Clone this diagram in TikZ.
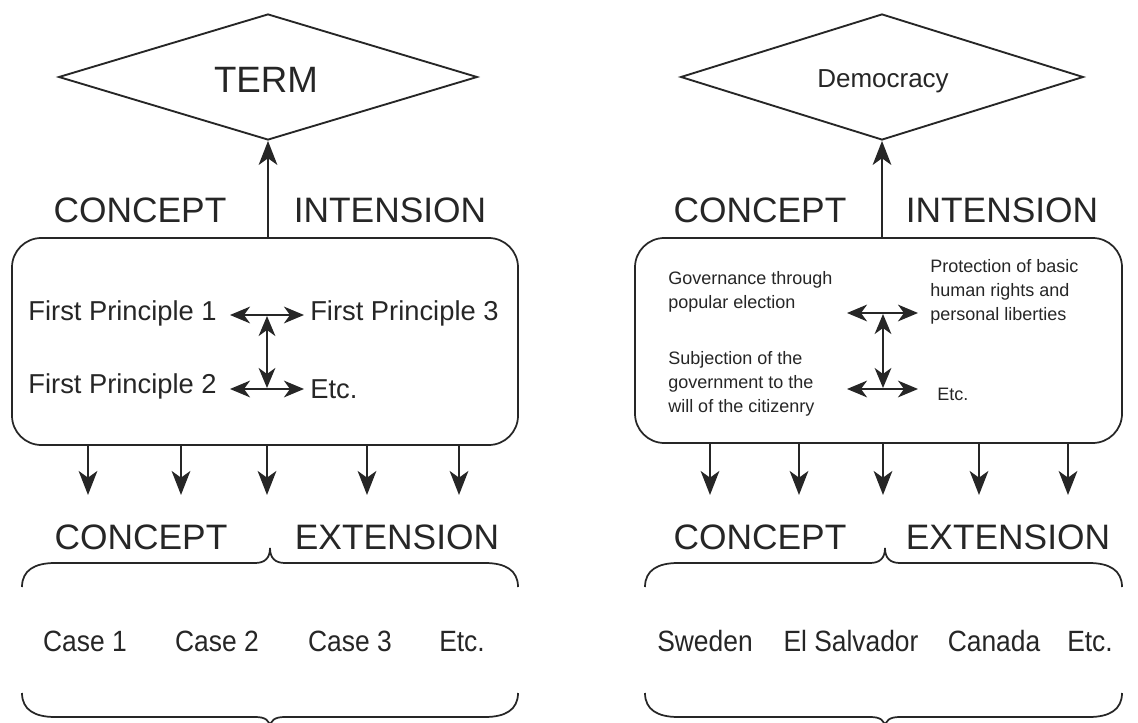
\documentclass[tikz,border=0pt]{standalone}
\usepackage{fontspec}
\setmainfont{Liberation Sans}
\newfontfamily\narrowfont[FakeStretch=0.9]{Liberation Sans}
\usetikzlibrary{arrows.meta,shapes.geometric}
\definecolor{ink}{HTML}{262626}
\tikzset{
  line/.style={draw=ink, line width=1.6pt},
  arr/.style={line, -{Stealth[length=18pt,width=14pt,inset=5pt]}},
  darr/.style={line, {Stealth[length=15pt,width=12.5pt,inset=4.5pt]}-{Stealth[length=15pt,width=12.5pt,inset=4.5pt]}},
  termshape/.style={diamond, draw=ink, line width=1.4pt, inner sep=0pt, minimum width=314pt, minimum height=94.5pt, aspect=3.3},
  bigcap/.style={text=ink, font=\fontsize{26.5pt}{30pt}\selectfont, inner sep=0pt},
  mid/.style={text=ink, font=\fontsize{20.5pt}{24pt}\selectfont, inner sep=0pt},
  caseT/.style={text=ink, font=\narrowfont\fontsize{22pt}{24pt}\selectfont, inner sep=0pt, anchor=base},
  small/.style={text=ink, font=\fontsize{13.5pt}{18pt}\selectfont, inner sep=0pt, align=left},
  panel/.style={draw=ink, line width=1.3pt, rounded corners=22pt},
  brace/.style={draw=ink, line width=1.3pt}
}
\begin{document}
\begin{tikzpicture}[x=0.75pt, y=-0.75pt]
\clip (0,0) rectangle (1138,723);
\fill[white] (0,0) rectangle (1138,723);

% ===== LEFT =====
\node[termshape] (term1) at (268,77) {};
\node[bigcap, font=\fontsize{27.5pt}{30pt}\selectfont] (termt1) at (266,80) {TERM};
\draw[panel] (12,238) rectangle (518,445);
\coordinate (box1top) at (268,238);
\node[bigcap] (ci1) at (140,210) {CONCEPT};
\node[bigcap] (in1) at (390,210) {INTENSION};
\draw[arr] (box1top) -- (term1.south);

\node[mid, anchor=east] (fp1) at (217,313) {First Principle 1};
\node[mid, anchor=west] (fp3) at (310,313) {First Principle 3};
\node[mid, anchor=east] (fp2) at (217,386) {First Principle 2};
\node[mid, anchor=west] (etc1) at (310,389) {Etc.};
\coordinate (h1l) at (230,315); \coordinate (h1r) at (304,315);
\coordinate (h2l) at (230,389); \coordinate (h2r) at (304,389);
\coordinate (v1t) at (267,316); \coordinate (v1b) at (267,388);
\draw[darr] (h1l) -- (h1r);
\draw[darr] (h2l) -- (h2r);
\draw[darr] (v1t) -- (v1b);

\foreach \x/\n in {88/1,181/2,267/3,367/4,459/5}{
  \coordinate (ls\n) at (\x,445);
  \coordinate (le\n) at (\x,495);
  \draw[arr] (ls\n) -- (le\n);
}

\node[bigcap] (ce1) at (141,537) {CONCEPT};
\node[bigcap] (ex1) at (397,537) {EXTENSION};
\draw[brace] (22,587) .. controls (22,570) and (35,563) .. (55,563) -- (255,563)
  .. controls (265,563) and (270,558) .. (270,548)
  .. controls (270,558) and (275,563) .. (285,563) -- (485,563)
  .. controls (505,563) and (518,570) .. (518,587);
\node[caseT] (c1) at (85,651) {Case 1};
\node[caseT] (c2) at (217,651) {Case 2};
\node[caseT] (c3) at (350,651) {Case 3};
\node[caseT] (c4) at (462,651) {Etc.};
\draw[brace] (22,693) .. controls (22,710) and (35,717) .. (55,717) -- (255,717)
  .. controls (265,717) and (270,720) .. (270,728)
  .. controls (270,720) and (275,717) .. (285,717) -- (485,717)
  .. controls (505,717) and (518,710) .. (518,693);

% ===== RIGHT =====
\node[termshape, minimum width=302pt] (term2) at (882,77) {};
\node[bigcap, font=\fontsize{19.5pt}{24pt}\selectfont] (termt2) at (883,81) {Democracy};
\draw[panel] (635,238) rectangle (1122,443);
\coordinate (box2top) at (882,238);
\node[bigcap] (ci2) at (760,210) {CONCEPT};
\node[bigcap] (in2) at (1002,210) {INTENSION};
\draw[arr] (box2top) -- (term2.south);

\node[small, anchor=north west] (g1) at (668,271) {Governance through\\popular election};
\node[small, anchor=north west] (g3) at (930,259) {Protection of basic\\human rights and\\personal liberties};
\node[small, anchor=north west] (g2) at (668,351) {Subjection of the\\government to the\\will of the citizenry};
\node[small, anchor=west] (etc2) at (937,394) {Etc.};
\coordinate (h3l) at (847,313); \coordinate (h3r) at (918,313);
\coordinate (h4l) at (847,389); \coordinate (h4r) at (918,389);
\coordinate (v2t) at (883,314); \coordinate (v2b) at (883,388);
\draw[darr] (h3l) -- (h3r);
\draw[darr] (h4l) -- (h4r);
\draw[darr] (v2t) -- (v2b);

\foreach \x/\n in {710/1,799/2,883/3,979/4,1068/5}{
  \coordinate (rs\n) at (\x,443);
  \coordinate (re\n) at (\x,495);
  \draw[arr] (rs\n) -- (re\n);
}

\node[bigcap] (ce2) at (760,537) {CONCEPT};
\node[bigcap] (ex2) at (1008,537) {EXTENSION};
\draw[brace] (645,587) .. controls (645,570) and (658,563) .. (678,563) -- (870,563)
  .. controls (880,563) and (885,558) .. (885,548)
  .. controls (885,558) and (890,563) .. (900,563) -- (1089,563)
  .. controls (1109,563) and (1122,570) .. (1122,587);
\node[caseT] (s1) at (705,651) {Sweden};
\node[caseT] (s2) at (851,651) {El Salvador};
\node[caseT] (s3) at (994,651) {Canada};
\node[caseT] (s4) at (1090,651) {Etc.};
\draw[brace] (645,693) .. controls (645,710) and (658,717) .. (678,717) -- (870,717)
  .. controls (880,717) and (885,720) .. (885,728)
  .. controls (885,720) and (890,717) .. (900,717) -- (1089,717)
  .. controls (1109,717) and (1122,710) .. (1122,693);
\end{tikzpicture}
\end{document}
